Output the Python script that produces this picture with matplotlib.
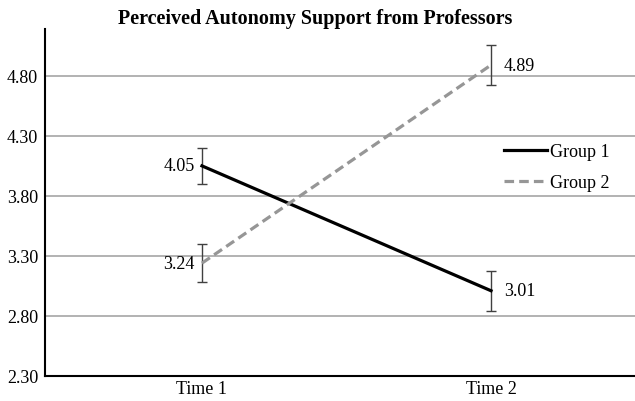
import matplotlib
matplotlib.use('Agg')
from matplotlib import pyplot as plt

times = ['Time 1', 'Time 2']
group1 = [4.05, 3.01]
group2 = [3.24, 4.89]
group1_err = [0.15, 0.165]
group2_err = [0.16, 0.17]
yticks = [2.30, 2.80, 3.30, 3.80, 4.30, 4.80]

plt.rcParams['font.family'] = ['Liberation Serif', 'DejaVu Serif']

fig = plt.figure(dpi=100, figsize=(6.35, 4.02))
ax = fig.add_axes([45 / 635, 25 / 402, 590 / 635, 347 / 402])

x = list(range(len(times)))

for yt in yticks[1:]:
	ax.axhline(yt, color='#a6a6a6', lw=1.2, zorder=0)

ax.errorbar(x, group1, yerr=group1_err, fmt='none', ecolor='#404040',
	elinewidth=1.0, capsize=3.5, capthick=1.0, zorder=2)
ax.errorbar(x, group2, yerr=group2_err, fmt='none', ecolor='#404040',
	elinewidth=1.0, capsize=3.5, capthick=1.0, zorder=2)
ax.plot(x, group1, color='black', lw=2.3, label='Group 1', zorder=3)
ax.plot(x, group2, color='#969696', lw=2.3, ls=(0, (3, 1.6)), label='Group 2', zorder=3)

# value labels
ax.text(x[0] - 0.025, group1[0], '%.2f' % group1[0], ha='right', va='center', fontsize=13)
ax.text(x[0] - 0.025, group2[0], '%.2f' % group2[0], ha='right', va='center', fontsize=13)
ax.text(x[1] + 0.045, group1[1], '%.2f' % group1[1], ha='left', va='center', fontsize=13)
ax.text(x[1] + 0.045, group2[1], '%.2f' % group2[1], ha='left', va='center', fontsize=13)

ax.set_xlim(-0.543, 1.498)
ax.set_ylim(2.30, 5.19)
ax.set_xticks(x)
ax.set_xticklabels(times)
ax.set_yticks(yticks)
ax.set_yticklabels(['%.2f' % v for v in yticks])
ax.tick_params(axis='both', which='major', labelsize=13, length=0, pad=3)
ax.tick_params(axis='y', pad=5)

for s in ['top', 'right']:
	ax.spines[s].set_visible(False)
ax.spines['left'].set_linewidth(1.5)
ax.spines['bottom'].set_linewidth(1.5)

leg = ax.legend(loc='upper left', bbox_to_anchor=(0.75, 0.717), frameon=False,
	fontsize=13, handlelength=2.4, handletextpad=0.15, labelspacing=0.75)

fig.text(0.497, 0.953, 'Perceived Autonomy Support from Professors', ha='center', va='center',
	fontsize=14.5, fontweight='bold')

plt.savefig('out.png', dpi=100)
